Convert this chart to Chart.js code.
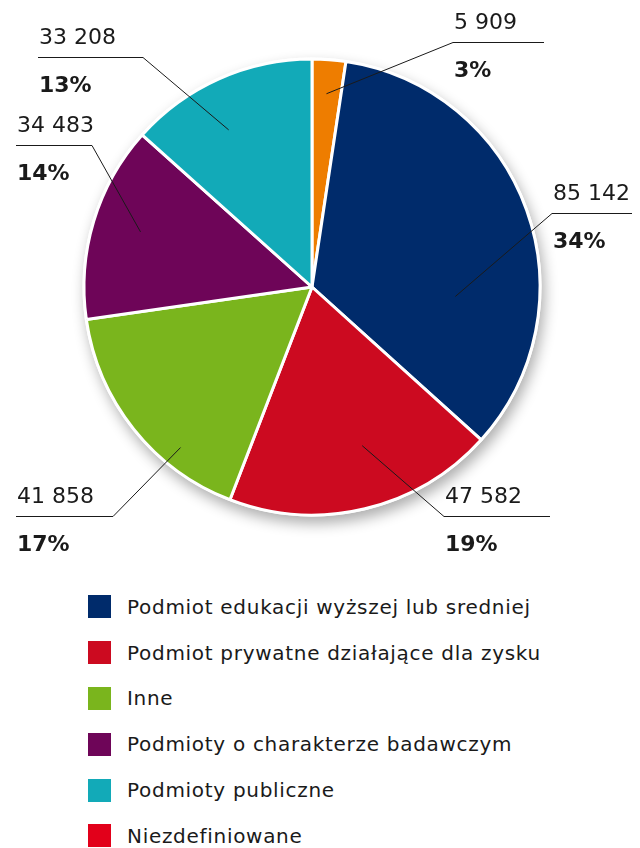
<!DOCTYPE html>
<html lang="pl">
<head>
<meta charset="utf-8">
<title>Podmioty</title>
<script src="https://cdn.jsdelivr.net/npm/chart.js@4.4.1/dist/chart.umd.min.js"></script>
<style>
    body { margin: 0; background: #fff; font-family: "DejaVu Sans", sans-serif; }
    #wrap { position: relative; width: 640px; height: 570px; }
    #legend { list-style: none; margin: 14px 0 0 0; padding: 0 0 0 88px; }
    #legend li { display: flex; align-items: center; height: 45.8px; font-size: 20px; letter-spacing: 0.7px; color: #1a1a1a; }
    #legend .box { width: 23px; height: 23px; margin-right: 16px; flex: none; }
</style>
</head>
<body>
<div id="wrap"><canvas id="pie_chart" width="640" height="570"></canvas></div>
<ul id="legend"></ul>
<script>
// dane wykresu (kolejnosc wycinkow zgodnie z ruchem wskazowek zegara od godz. 12)
const sliceLabels = [
    "Niezdefiniowane",
    "Podmiot edukacji wyższej lub sredniej",
    "Podmiot prywatne działające dla zysku",
    "Inne",
    "Podmioty o charakterze badawczym",
    "Podmioty publiczne",
];
const sliceValues = [5909, 85142, 47582, 41858, 34483, 33208];
const slicePercents = ["3%", "34%", "19%", "17%", "14%", "13%"];
const sliceColors = ["#ee7d00", "#002b6b", "#cc0a20", "#7ab51d", "#6e0558", "#12aab8"];

// legenda
const legendLabels = [
    "Podmiot edukacji wyższej lub sredniej",
    "Podmiot prywatne działające dla zysku",
    "Inne",
    "Podmioty o charakterze badawczym",
    "Podmioty publiczne",
    "Niezdefiniowane",
];
const legendColors = ["#002b6b", "#cc0a20", "#7ab51d", "#6e0558", "#12aab8", "#e2001a"];

// polozenie podpisow: t = ulamek kata wycinka, rf = ulamek promienia,
// ex/ey = zalamanie linii wzgledem srodka, fx = koniec poziomej kreski
const calloutLayout = [
    { t: 0.5, rf: 0.85, ex: 141, ey: -245, fx: 232 },
    { t: 0.69, rf: 0.63, ex: 240, ey: -74, fx: 320 },
    { t: 0.44, rf: 0.73, ex: 132, ey: 229, fx: 238 },
    { t: 0.30, rf: 0.91, ex: -199, ey: 229, fx: -296 },
    { t: 0.52, rf: 0.79, ex: -220, ey: -142, fx: -296 },
    { t: 0.42, rf: 0.78, ex: -169, ey: -230, fx: -274 },
];

function formatNumber(v) {
    return String(v).replace(/\B(?=(\d{3})+(?!\d))/g, " ");
}

// cien pod kolem
const shadowPlugin = {
    id: "pieShadow",
    beforeDatasetsDraw(chart) {
        const { ctx } = chart;
        const arc = chart.getDatasetMeta(0).data[0];
        if (!arc) return;
        ctx.save();
        ctx.shadowColor = "rgba(0, 0, 0, 0.32)";
        ctx.shadowBlur = 14;
        ctx.shadowOffsetX = 3;
        ctx.shadowOffsetY = 7;
        ctx.fillStyle = "#fff";
        ctx.beginPath();
        ctx.arc(arc.x, arc.y, arc.outerRadius + 1.5, 0, Math.PI * 2);
        ctx.fill();
        ctx.restore();
    },
};

// podpisy z liniami odniesienia
const calloutPlugin = {
    id: "callouts",
    afterDatasetsDraw(chart) {
        const { ctx } = chart;
        const meta = chart.getDatasetMeta(0);
        meta.data.forEach((arc, i) => {
            const lay = calloutLayout[i];
            const a = arc.startAngle + (arc.endAngle - arc.startAngle) * lay.t;
            const r = arc.outerRadius * lay.rf;
            const px = arc.x + Math.cos(a) * r;
            const py = arc.y + Math.sin(a) * r;
            const ex = arc.x + lay.ex;
            const ey = arc.y + lay.ey;
            const fx = arc.x + lay.fx;

            ctx.save();
            ctx.strokeStyle = "#1a1a1a";
            ctx.lineWidth = 1;
            ctx.beginPath();
            ctx.moveTo(px, py);
            ctx.lineTo(ex, Math.round(ey) + 0.5);
            ctx.lineTo(fx, Math.round(ey) + 0.5);
            ctx.stroke();

            const tx = Math.min(ex, fx) + 1;
            ctx.fillStyle = "#1a1a1a";
            ctx.textAlign = "left";
            ctx.textBaseline = "alphabetic";
            ctx.font = '22px "DejaVu Sans", sans-serif';
            ctx.fillText(formatNumber(sliceValues[i]), tx, ey - 13);
            ctx.font = 'bold 22px "DejaVu Sans", sans-serif';
            ctx.fillText(slicePercents[i], tx, ey + 35);
            ctx.restore();
        });
    },
};

const ctx = document.getElementById("pie_chart").getContext("2d");
new Chart(ctx, {
    type: "pie",
    data: {
        labels: sliceLabels,
        datasets: [
            {
                data: sliceValues,
                backgroundColor: sliceColors,
                borderColor: "#ffffff",
                borderWidth: 3,
                radius: 228,
                hoverOffset: 0,
            },
        ],
    },
    options: {
        responsive: false,
        animation: false,
        layout: { padding: { left: 0, right: 16, top: 50, bottom: 46 } },
        plugins: {
            legend: { display: false },
            tooltip: { enabled: false },
        },
    },
    plugins: [shadowPlugin, calloutPlugin],
});

const legendEl = document.getElementById("legend");
legendLabels.forEach((label, i) => {
    const li = document.createElement("li");
    const box = document.createElement("span");
    box.className = "box";
    box.style.background = legendColors[i];
    li.appendChild(box);
    li.appendChild(document.createTextNode(label));
    legendEl.appendChild(li);
});
</script>
</body>
</html>
